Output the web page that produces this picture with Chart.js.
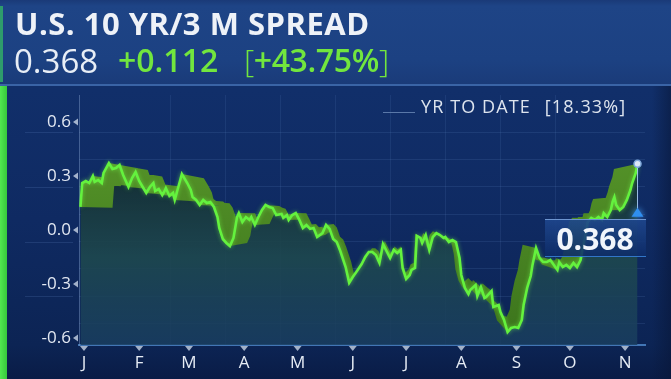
<!DOCTYPE html>
<html>
<head>
<meta charset="utf-8">
<script src="https://cdn.jsdelivr.net/npm/chart.js@4.4.0/dist/chart.umd.min.js"></script>
<style>
html, body { margin: 0; padding: 0; }
body {
  width: 671px; height: 379px; overflow: hidden; position: relative;
  font-family: "Open Sans", sans-serif;
  background: linear-gradient(to bottom, #12306c 0px, #112f6a 90px, #0f2a62 220px, #0c2454 345px, #0a1c46 379px);
}
#hdr {
  position: absolute; left: 0; top: 0; width: 671px; height: 84px;
  background: linear-gradient(to bottom, #1a3a78 0px, #1e4486 6px, #1c4182 60px, #1a3b79 84px);
  border-bottom: 2px solid #3a64a6;
}
#hdrEdge { position: absolute; left: 0; top: 6px; width: 3px; height: 76px; background: #2e9c6c; }
#greenEdge {
  position: absolute; left: 0; top: 86px; width: 7px; height: 293px;
  background: linear-gradient(to right, #52e850, #36c83c);
}
#rightEdge {
  position: absolute; left: 652px; top: 86px; width: 19px; height: 293px;
  background: linear-gradient(to right, rgba(8,22,55,0.0), rgba(8,22,55,0.55));
}
#chart { position: absolute; left: 0; top: 0; }
.t { position: absolute; white-space: nowrap; line-height: 1; }
#title { left: 15px; top: 8px; font-size: 31px; font-weight: 700; letter-spacing: 0.5px; color: #eef2f8; }
#last { left: 14px; top: 44px; font-size: 33px; font-weight: 400; color: #e8eef6; }
#chg { left: 118px; top: 44px; font-size: 32px; font-weight: 600; color: #72e63e; }
#pct { left: 244px; top: 44px; font-size: 32px; font-weight: 600; color: #72e63e; letter-spacing: -0.4px; }
#pct .br { font-weight: 300; }
#ytdLine { position: absolute; left: 383px; top: 112px; width: 32px; height: 1px; background: #5a78a8; }
#ytd { left: 421px; top: 97px; font-size: 18px; font-weight: 400; letter-spacing: 1.1px; color: #dde4ee; }
#ytd span { margin-left: 14px; }
#lastBox {
  position: absolute; width: 101px; height: 38px; box-sizing: border-box;
  background: linear-gradient(to bottom, rgba(30,70,140,0.92), rgba(14,44,104,0.88));
  border-top: 1px solid #6d95d0; border-bottom: 1px solid rgba(60,140,230,0.7);
  color: #f1f5fb; font-size: 30px; font-weight: 700; text-align: center; line-height: 37px;
}
</style>
</head>
<body>
<div id="hdr"></div>
<div id="hdrEdge"></div>
<div id="greenEdge"></div>
<div id="rightEdge"></div>
<canvas id="chart" width="671" height="379"></canvas>
<div class="t" id="title">U.S. 10 YR/3 M SPREAD</div>
<div class="t" id="last">0.368</div>
<div class="t" id="chg">+0.112</div>
<div class="t" id="pct"><span class="br">[</span>+43.75%<span class="br">]</span></div>
<div id="ytdLine"></div>
<div class="t" id="ytd">YR TO DATE<span>[18.33%]</span></div>
<div id="lastBox">0.368</div>
<script>
// day of year (0 = Jan 1) and spread in percentage points
var days = [-2,-1,1,3,5,6,8,10,11,14,16,18,20,22,24,25,27,29,31,33,35,37,39,40,42,44,45,46,48,50,
  51,53,55,58,60,61,63,65,67,69,71,73,75,76,78,80,82,84,86,87,89,91,93,94,96,98,100,102,104,106,
  108,111,112,114,115,117,119,121,123,125,127,129,131,134,136,138,140,142,144,147,149,151,153,156,158,160,162,164,166,168,
  170,172,174,176,178,179,181,183,184,186,187,189,190,192,194,196,198,200,202,203,205,207,209,211,212,214,216,217,220,221,
  223,225,226,229,230,233,234,236,238,240,242,244,246,247,249,251,252,254,256,258,260,262,264,266,267,269,271,273,275,277,
  279,280,282,283,285,287,289,291,292,294,296,297,298,299,301,303,305,307,308,310,311];
var spread = [0.128,0.261,0.272,0.261,0.300,0.267,0.278,0.261,0.317,0.372,0.339,0.344,0.361,0.306,0.261,0.239,0.289,0.322,0.272,0.239,
  0.206,0.239,0.261,0.217,0.228,0.194,0.211,0.233,0.189,0.206,0.167,0.239,0.311,0.261,0.222,0.183,0.167,0.139,0.167,0.150,
  0.156,0.128,0.072,0.011,-0.050,-0.072,-0.089,-0.044,0.072,0.094,0.044,0.072,0.056,0.072,0.028,0.072,0.111,0.139,0.128,0.122,
  0.083,0.089,0.067,0.083,0.056,0.083,0.094,0.056,0.011,0.028,0.006,0.011,-0.039,-0.017,0.028,0.006,-0.050,-0.067,-0.117,-0.206,
  -0.294,-0.261,-0.233,-0.189,-0.150,-0.122,-0.122,-0.139,-0.183,-0.078,-0.117,-0.156,-0.111,-0.128,-0.111,-0.211,-0.272,-0.250,-0.222,-0.211,
  -0.033,-0.044,-0.072,-0.028,-0.111,-0.039,-0.017,-0.028,-0.044,-0.039,-0.067,-0.056,-0.067,-0.156,-0.250,-0.322,-0.356,-0.333,-0.306,-0.367,
  -0.317,-0.378,-0.372,-0.339,-0.428,-0.417,-0.456,-0.500,-0.567,-0.544,-0.539,-0.544,-0.500,-0.417,-0.322,-0.256,-0.194,-0.100,-0.156,-0.178,
  -0.178,-0.167,-0.194,-0.222,-0.178,-0.206,-0.194,-0.211,-0.183,-0.206,-0.167,-0.111,-0.017,0.044,0.067,0.056,0.072,0.056,0.094,0.072,
  0.111,0.156,0.183,0.139,0.111,0.128,0.167,0.222,0.261,0.317,0.368];
var monthLabels = ['J','F','M','A','M','J','J','A','S','O','N'];
var monthStarts = [0,31,59,90,120,151,181,212,243,273,304];
var yTicks = [-0.6,-0.3,0.0,0.3,0.6];

var points = [];
for (var i in days) {
  points.push({x: days[i], y: spread[i]});
}

function areaFill(chart) {
  var a = chart.chartArea;
  if (!a) return 'rgba(0,0,0,0)';
  var g = chart.ctx.createLinearGradient(0, a.top, 0, a.bottom);
  g.addColorStop(0, 'rgba(16,36,42,0.97)');
  g.addColorStop(0.35, 'rgba(22,50,54,0.95)');
  g.addColorStop(0.65, 'rgba(30,72,78,0.9)');
  g.addColorStop(1, 'rgba(26,62,96,0.85)');
  return g;
}

// 3d ribbon: line swept towards a vanishing point behind the plot
var ribbon = {
  id: 'ribbon',
  beforeDatasetDraw: function(chart) {
    var pts = chart.getDatasetMeta(0).data;
    var a = chart.chartArea, ctx = chart.ctx;
    var vx = a.left + a.width * 0.57, vy = chart.scales.y.getPixelForValue(0.08);
    var k = 0.9;
    var q = pts.map(function(p) { return {x: vx + k * (p.x - vx), y: vy + k * (p.y - vy)}; });
    ctx.save();
    ctx.beginPath();
    for (var i = 0; i < pts.length - 1; i++) {
      var quad = [pts[i], pts[i + 1], q[i + 1], q[i]];
      var s = 0;
      for (var j = 0; j < 4; j++) {
        var p1 = quad[j], p2 = quad[(j + 1) % 4];
        s += p1.x * p2.y - p2.x * p1.y;
      }
      if (s < 0) quad.reverse();
      ctx.moveTo(quad[0].x, quad[0].y);
      for (var j = 1; j < 4; j++) ctx.lineTo(quad[j].x, quad[j].y);
      ctx.closePath();
    }
    var g = ctx.createLinearGradient(0, a.top, 0, a.bottom);
    g.addColorStop(0, '#5c9c2c');
    g.addColorStop(1, '#3b731c');
    ctx.fillStyle = g;
    ctx.fill('nonzero');
    ctx.restore();
    ctx.shadowColor = 'rgba(120,255,80,0.55)';
    ctx.shadowBlur = 4;
  },
  afterDatasetDraw: function(chart) {
    chart.ctx.shadowBlur = 0;
    chart.ctx.shadowColor = 'rgba(0,0,0,0)';
  }
};

var decor = {
  id: 'decor',
  afterDraw: function(chart) {
    var ctx = chart.ctx, a = chart.chartArea;
    var sx = chart.scales.x, sy = chart.scales.y, sg = chart.scales.yg;
    ctx.save();
    // back grid stubs in the axis area
    ctx.strokeStyle = 'rgba(110,150,210,0.18)';
    ctx.lineWidth = 1;
    sg.ticks.forEach(function(t) {
      if (Math.abs(Math.round(t.value / 0.3) * 0.3 - t.value) < 1e-6) {
        var y = Math.round(sg.getPixelForValue(t.value)) + 0.5;
        ctx.beginPath(); ctx.moveTo(25, y); ctx.lineTo(a.left - 6, y); ctx.stroke();
      }
    });
    // y tick markers
    ctx.fillStyle = 'rgba(200,212,230,0.8)';
    yTicks.forEach(function(v) {
      var y = sy.getPixelForValue(v);
      ctx.beginPath(); ctx.moveTo(a.left - 6, y); ctx.lineTo(a.left - 1, y - 3.5); ctx.lineTo(a.left - 1, y + 3.5); ctx.closePath(); ctx.fill();
    });
    // x tick markers
    monthStarts.forEach(function(d) {
      var x = sx.getPixelForValue(d);
      ctx.beginPath(); ctx.moveTo(x - 4, a.bottom + 1); ctx.lineTo(x + 4, a.bottom + 1); ctx.lineTo(x, a.bottom + 6); ctx.closePath(); ctx.fill();
    });
    // last value marker
    var n = days.length - 1;
    var px = sx.getPixelForValue(days[n]), py = sy.getPixelForValue(spread[n]);
    ctx.strokeStyle = 'rgba(170,205,245,0.9)';
    ctx.lineWidth = 1;
    ctx.beginPath(); ctx.moveTo(px, py); ctx.lineTo(px, py + 47); ctx.stroke();
    ctx.fillStyle = '#2f8ff0';
    ctx.shadowColor = 'rgba(80,170,255,0.9)'; ctx.shadowBlur = 6;
    ctx.beginPath(); ctx.moveTo(px, py + 44); ctx.lineTo(px + 6, py + 53); ctx.lineTo(px - 6, py + 53); ctx.closePath(); ctx.fill();
    ctx.shadowBlur = 0;
    ctx.fillStyle = '#dce8f8';
    ctx.strokeStyle = '#7fa8dc';
    ctx.lineWidth = 1.5;
    ctx.beginPath(); ctx.arc(px, py, 3.5, 0, Math.PI * 2); ctx.fill(); ctx.stroke();
    ctx.restore();
    var box = document.getElementById('lastBox');
    box.style.left = (px - 93) + 'px';
    box.style.top = (py + 55) + 'px';
  }
};

var tickFont = {family: 'Open Sans', size: 17};

var LineGraph = new Chart(document.getElementById('chart'), {
  type: 'line',
  data: {
    datasets: [{
      data: points,
      borderColor: '#64f23e',
      borderWidth: 2.6,
      pointRadius: 0,
      tension: 0,
      fill: 'start',
      backgroundColor: function(c) { return areaFill(c.chart); }
    }]
  },
  options: {
    responsive: false,
    animation: false,
    layout: {padding: {top: 95, right: 26, left: 0, bottom: 0}},
    plugins: {legend: {display: false}, tooltip: {enabled: false}},
    scales: {
      x: {
        type: 'linear', position: 'bottom', min: -2.8, max: 315.2,
        afterBuildTicks: function(s) { s.ticks = monthStarts.map(function(v) { return {value: v}; }); },
        afterFit: function(s) { s.height = 34; },
        ticks: {
          autoSkip: false, maxRotation: 0, padding: 8, color: '#e6ecf5', font: tickFont,
          callback: function(v, i) { return monthLabels[i]; }
        },
        grid: {display: false, drawTicks: false},
        border: {display: true, color: 'rgba(84,146,214,0.75)', width: 2}
      },
      xg: {
        type: 'linear', position: 'bottom', min: -0.653, max: 9.619,
        afterBuildTicks: function(s) { s.ticks = s.ticks.filter(function(t) { return Math.abs(t.value - Math.round(t.value)) < 1e-6; }); },
        ticks: {display: false, stepSize: 1},
        grid: {color: 'rgba(110,150,210,0.13)', drawTicks: false},
        border: {display: false}
      },
      y: {
        position: 'left', min: -0.639, max: 0.75,
        afterBuildTicks: function(s) { s.ticks = yTicks.map(function(v) { return {value: v}; }); },
        afterFit: function(s) { s.width = 79; },
        ticks: {
          padding: 8, color: '#e2e8f2', font: tickFont,
          callback: function(v) { return v.toFixed(1); }
        },
        grid: {display: false, drawTicks: false},
        border: {display: true, color: 'rgba(130,160,205,0.45)'}
      },
      yg: {
        position: 'left', min: -0.567, max: 0.803,
        afterBuildTicks: function(s) {
          s.ticks = s.ticks.filter(function(t) {
            return t.value <= 0.61 && Math.abs(Math.round(t.value / 0.15) * 0.15 - t.value) < 1e-6;
          });
        },
        afterFit: function(s) { s.width = 0; },
        ticks: {display: false, stepSize: 0.15},
        grid: {color: 'rgba(110,150,210,0.15)', drawTicks: false},
        border: {display: false}
      }
    }
  },
  plugins: [ribbon, decor]
});
</script>
</body>
</html>
